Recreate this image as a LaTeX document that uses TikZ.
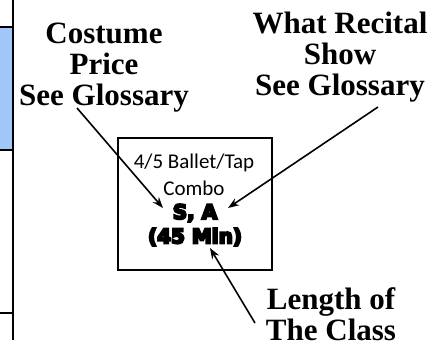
\documentclass[tikz,border=0pt]{standalone}
\usepackage{fontspec}
\setmainfont{Liberation Serif}
\newfontfamily\calib{Carlito}
\newfontfamily\heavy{DejaVu Sans Bold}[FakeBold=10]
\usetikzlibrary{arrows.meta}
\definecolor{sideblue}{RGB}{160,198,250}
\tikzset{
  lab/.style={align=center, inner sep=0pt, font=\bfseries\fontsize{31}{31}\selectfont},
  thin/.style={inner sep=0pt, font=\calib\fontsize{21}{21}\selectfont},
  hv/.style={inner sep=0pt, font=\heavy\fontsize{20}{20}\selectfont},
  arr/.style={line width=1.6pt, -{Stealth[length=11pt,width=8pt]}},
  frame/.style={line width=2.5pt}
}
\begin{document}
\begin{tikzpicture}[x=1pt,y=-1pt]
\useasboundingbox (0,0) rectangle (443,347);
% left edge
\fill[sideblue] (0,27) rectangle (13,150);
\draw[frame] (13,0) -- (13,340);
\draw[frame] (0,27) -- (13,27);
\draw[frame] (0,150) -- (13,150);
\draw[frame] (0,313) -- (13,313);
% box
\node[draw, line width=2pt, minimum width=154pt, minimum height=132pt, inner sep=0pt] (box) at (195,204) {};
\node[thin] (l1) at (194,163) {4/5 Ballet/Tap};
\node[thin] (l2) at (194,188) {Combo};
\node[hv] (sa) at (195,213) {S, A};
\node[hv] (mn) at (195,237) {(45 Min)};
% labels
\node[lab] (cost) at (104,68) {Costume\\Price\\See Glossary};
\node[lab] (show) at (340,57) {What Recital\\Show\\See Glossary};
\node[lab] (len) at (331,314) {Length of\\The Class};
% arrows
\coordinate (a1s) at (77,108);
\coordinate (a1e) at (163,208);
\coordinate (a2s) at (378,107);
\coordinate (a2e) at (228,208);
\coordinate (a3s) at (255,323);
\coordinate (a3e) at (210,248);
\draw[arr] (a1s) -- (a1e);
\draw[arr] (a2s) -- (a2e);
\draw[arr] (a3s) -- (a3e);
\end{tikzpicture}
\end{document}
